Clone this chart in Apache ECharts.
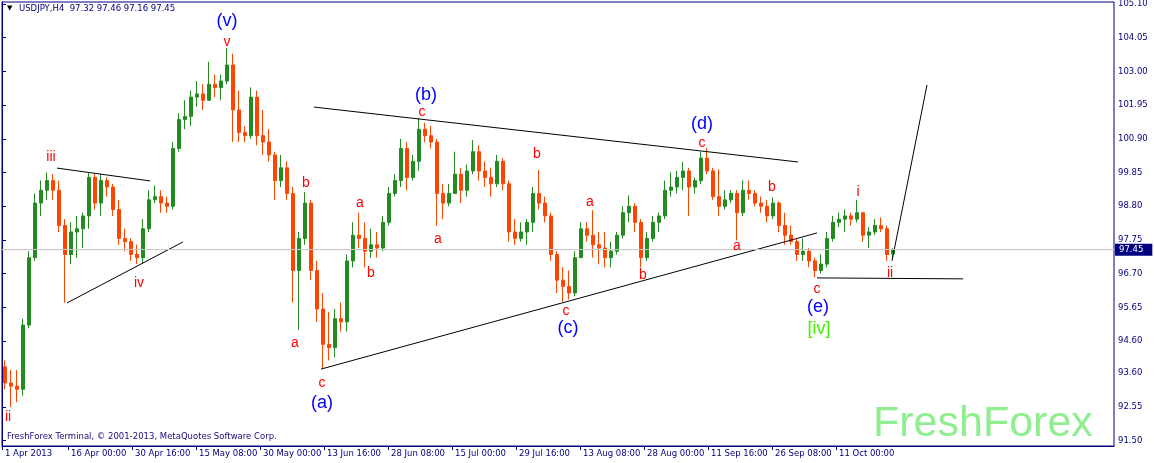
<!DOCTYPE html>
<html><head><meta charset="utf-8">
<script src="https://cdn.jsdelivr.net/npm/echarts@6/dist/echarts.min.js"></script>
<style>html,body{margin:0;padding:0;background:#fff}#c{width:1154px;height:463px}</style>
</head><body><div id="c"></div><script>
// ---- data (daily OHLC, USDJPY Apr–Oct 2013) ----
const symbolTitle = "USDJPY,H4";
const lastBarOHLC = ["97.32", "97.46", "97.16", "97.45"];
const bidPrice = 97.45;
const barsPerDay = 6; // H4 bars per trading day
const dayOpen = [93.8,93.3,93.2,93.1,95.1,97.2,98.9,99.3,99.6,99.3,98.2,97.3,98.0,98.1,98.5,99.7,98.9,99.6,99.4,98.7,97.8,97.7,97.3,97.2,98.1,99.0,99.1,98.9,98.8,100.6,101.5,101.6,102.2,102.3,102.1,102.6,102.5,102.7,103.2,101.8,101.1,101.0,102.2,101.0,100.8,100.4,99.6,100.0,99.2,96.8,97.8,98.9,96.8,95.6,94.5,94.4,95.3,95.2,97.1,97.9,97.8,97.4,97.6,97.5,98.3,99.2,99.6,100.6,99.7,100.2,101.2,101.0,100.8,99.2,98.9,99.2,99.8,99.3,99.9,100.5,99.9,99.7,99.5,100.2,99.5,98.0,97.8,98.0,98.3,99.2,98.9,98.5,97.3,96.5,96.3,96.1,97.2,98.1,97.9,97.6,97.5,97.2,97.4,97.9,98.6,98.8,98.3,97.2,97.8,98.3,98.5,99.3,99.4,99.7,99.9,99.4,99.6,100.3,99.9,99.1,98.8,99.0,99.2,98.6,99.3,99.2,98.9,98.8,98.5,98.9,98.2,97.9,97.7,97.3,97.4,97.1,96.8,97.0,97.8,98.3,98.4,98.5,98.4,98.6,97.9,98.0,98.2,98.1,97.32];
const dayHigh = [94.0,93.7,93.7,95.3,97.4,99.2,99.6,99.85,99.8,99.6,98.4,98.3,98.5,98.6,99.85,99.8,99.8,99.7,99.5,99.0,98.1,97.8,97.6,98.4,99.3,99.45,99.3,99.1,100.8,101.7,102.1,102.4,102.7,102.6,103.3,102.9,102.9,103.73,103.55,102.4,101.3,102.5,102.4,101.8,101.2,100.5,100.4,100.2,99.4,98.0,99.24,99.0,97.1,96.1,95.5,95.6,95.8,97.3,98.3,98.6,98.3,98.1,98.0,98.5,99.4,99.8,100.9,100.8,100.4,101.55,101.4,101.3,100.9,99.5,99.5,100.5,100.0,100.1,100.86,100.7,100.2,100.0,100.4,100.3,99.6,98.4,98.3,98.4,99.4,99.93,99.1,98.6,97.4,96.9,96.8,97.4,98.3,98.3,98.68,98.0,98.0,97.7,98.0,98.8,99.14,98.9,98.4,98.0,98.5,98.6,99.6,99.86,99.9,100.18,100.0,99.7,100.5,100.62,100.0,99.95,99.3,99.3,99.3,99.6,99.6,99.3,99.1,99.0,99.08,98.95,98.6,98.2,97.8,97.8,97.5,97.2,97.3,98.0,98.5,98.6,98.7,98.6,99.0,98.6,98.15,98.4,98.45,98.2,97.5];
const dayLow = [93.1,92.55,92.7,92.9,95.0,97.1,98.5,99.0,99.0,98.0,95.8,97.0,97.2,97.5,98.1,98.7,98.5,99.1,98.5,97.6,97.4,97.1,97.0,97.0,98.0,98.9,98.6,98.6,98.7,100.5,101.2,101.3,101.9,101.8,102.1,102.2,102.1,102.6,100.8,100.8,100.8,100.9,100.7,100.4,100.2,99.0,99.4,99.0,95.8,94.95,97.6,96.5,95.2,93.76,94.0,94.1,94.9,94.9,96.9,97.5,96.9,97.2,97.2,97.4,98.2,99.1,99.4,99.3,99.6,99.9,100.8,100.6,98.2,98.4,98.8,99.2,98.9,99.1,99.8,99.6,99.4,99.1,99.4,99.3,97.7,97.6,97.7,97.6,98.0,98.7,98.3,97.1,96.1,95.82,95.9,96.0,97.2,97.7,97.2,97.0,96.9,96.9,97.3,97.8,98.3,98.0,96.9,97.1,97.7,98.0,98.4,99.1,99.2,99.3,98.5,99.2,99.5,99.8,99.0,98.5,98.7,98.9,97.74,98.5,99.0,98.8,98.6,98.3,98.4,98.0,97.6,97.6,97.1,97.1,96.9,96.59,96.7,96.9,97.7,98.15,98.0,98.2,98.3,97.7,97.5,97.9,98.0,97.1,97.16];
const dayClose = [93.3,93.2,93.1,95.1,97.2,98.9,99.3,99.6,99.3,98.2,97.3,98.0,98.1,98.5,99.7,98.9,99.6,99.4,98.7,97.8,97.7,97.3,97.2,98.1,99.0,99.1,98.9,98.8,100.6,101.5,101.6,102.2,102.3,102.1,102.6,102.5,102.7,103.2,101.8,101.1,101.0,102.2,101.0,100.8,100.4,99.6,100.0,99.2,96.8,97.8,98.9,96.8,95.6,94.5,94.4,95.3,95.2,97.1,97.9,97.8,97.4,97.6,97.5,98.3,99.2,99.6,100.6,99.7,100.2,101.2,101.0,100.8,99.2,98.9,99.2,99.8,99.3,99.9,100.5,99.9,99.7,99.5,100.2,99.5,98.0,97.8,98.0,98.3,99.2,98.9,98.5,97.3,96.5,96.3,96.1,97.2,98.1,97.9,97.6,97.5,97.2,97.4,97.9,98.6,98.8,98.3,97.2,97.8,98.3,98.5,99.3,99.4,99.7,99.9,99.4,99.6,100.3,99.9,99.1,98.8,99.0,99.2,98.6,99.3,99.2,98.9,98.8,98.5,98.9,98.2,97.9,97.7,97.3,97.4,97.1,96.8,97.0,97.8,98.3,98.4,98.5,98.4,98.6,97.9,98.0,98.2,98.1,97.3,97.45];

const yTickLabels = ["91.50","92.55","93.60","94.60","95.65","96.70","97.75","98.80","99.85","100.90","101.95","103.00","104.05","105.10"];
const xTickLabels = ["1 Apr 2013","16 Apr 00:00","30 Apr 16:00","15 May 08:00","30 May 00:00","13 Jun 16:00","28 Jun 08:00","15 Jul 00:00","29 Jul 16:00","13 Aug 08:00","28 Aug 00:00","11 Sep 16:00","26 Sep 08:00","11 Oct 00:00"];
const totalSlots = 1112; // H4 bar slots visible across the chart

// wave labels: [text, H4 bar index, price]
const redLabels = [["ii",6,92.24],["iii",49,100.34],["iv",137,96.41],["v",225,103.92],["a",293,94.54],["b",304,99.53],["c",320,93.30],["a",358,98.90],["b",369,96.72],["c",420,101.74],["a",436,97.78],["b",535,100.43],["c",564,95.54],["a",588,98.93],["b",641,96.66],["c",700,100.77],["a",735,97.56],["b",770,99.40],["c",815,96.22],["i",856,99.25],["ii",888,96.72]];
const blueLabels = [["(v)",225,104.57],["(a)",320,92.67],["(b)",424,102.27],["(c)",566,95.01],["(d)",700,101.36],["(e)",816,95.66]];
const greenLabels = [["[iv]",817,94.98]];
// trend lines: [bar1, price1, bar2, price2]
const trendLines = [[55,99.99,148,99.59],[65,95.79,181,97.69],[312,101.89,796,100.18],[319,93.73,815,97.97],[815,96.57,961,96.54],[890,97.10,925,102.58]];

// ---- calendar of H4 slots (weekdays only) ----
const MON = ["Jan","Feb","Mar","Apr","May","Jun","Jul","Aug","Sep","Oct","Nov","Dec"];
const slotName = {};
(function(){
  const d = new Date(Date.UTC(2013,3,1));
  let day = 0;
  while (day * barsPerDay < totalSlots) {
    const wd = d.getUTCDay();
    if (wd !== 0 && wd !== 6) {
      for (let h = 0; h < barsPerDay; h++) {
        const k = day * barsPerDay + h;
        const hh = String(h*4).padStart(2,'0') + ':00';
        slotName[d.getUTCDate()+' '+MON[d.getUTCMonth()]+' '+hh] = k;
        if (h === 0) slotName[d.getUTCDate()+' '+MON[d.getUTCMonth()]+' '+d.getUTCFullYear()] = k;
      }
      day++;
    }
    d.setUTCDate(d.getUTCDate()+1);
  }
})();
const xTickPos = xTickLabels.map(l => slotName[l]);
const xLabelByPos = {}; xTickLabels.forEach((l,i)=>{ xLabelByPos[xTickPos[i]] = l; });
const yTickVals = yTickLabels.map(Number);

const candles = dayOpen.map((o,i)=>[i*barsPerDay + barsPerDay/2, o, dayClose[i], dayLow[i], dayHigh[i]]);

const NAVY = '#000080';
const FONT = 'DejaVu Sans';

function labelSeries(list, color, size) {
  return {
    type: 'scatter', silent: true, z: 5, symbol: 'circle', symbolSize: 1,
    itemStyle: {color: 'rgba(0,0,0,0)'},
    data: list.map(l => ({name: l[0], value: [l[1], l[2]]})),
    label: {show: true, position: 'inside', formatter: '{b}', color: color, opacity: 1,
            textBorderWidth: 0, textBorderColor: 'transparent',
            fontFamily: 'Liberation Sans', fontSize: size}
  };
}

const series = [
  {
    type: 'line', z: 1, silent: true, clip: false, symbol: 'none',
    data: [[0, bidPrice], [totalSlots, bidPrice]],
    lineStyle: {color: '#C8C8C8', width: 1},
    markLine: {
      silent: true, symbol: ['none','none'],
      data: [{yAxis: bidPrice}],
      lineStyle: {color: '#C8C8C8', width: 1, type: 'solid'},
      label: {show: true, position: 'end', distance: 1, formatter: bidPrice.toFixed(2),
              color: '#fff', backgroundColor: NAVY, padding: [2, 9, 1, 4],
              fontFamily: FONT, fontSize: 8.5}
    }
  },
  {
    type: 'candlestick', z: 2, silent: true, barWidth: 4,
    data: candles,
    itemStyle: {color: '#228B22', color0: '#FF4500', borderColor: '#228B22', borderColor0: '#FF4500', borderWidth: 1}
  }
];
trendLines.forEach(t => series.push({
  type: 'line', z: 3, silent: true, clip: false, symbol: 'none',
  data: [[t[0], t[1]], [t[2], t[3]]],
  lineStyle: {color: '#000', width: 1}
}));
series.push(labelSeries(redLabels, '#FF0000', 14));
series.push(labelSeries(blueLabels, '#0000FF', 18));
series.push(labelSeries(greenLabels, '#44EE00', 18));

const chart = echarts.init(document.getElementById('c'), null, {renderer: 'canvas'});
chart.setOption({
  animation: false,
  backgroundColor: '#fff',
  grid: {left: 2, right: 40, top: 2, bottom: 17, show: true, borderColor: NAVY, borderWidth: 1,
         backgroundColor: '#fff', containLabel: false, outerBoundsMode: 'none'},
  xAxis: {
    type: 'value', min: 0, max: totalSlots,
    splitLine: {show: false},
    axisLine: {show: true, lineStyle: {color: NAVY, width: 1}},
    axisTick: {show: true, length: 4, lineStyle: {color: NAVY}, customValues: xTickPos},
    axisLabel: {customValues: xTickPos, align: 'left', margin: 3, padding: [0,0,0,3],
                color: NAVY, fontFamily: FONT, fontSize: 8.5,
                formatter: v => xLabelByPos[v] || ''}
  },
  yAxis: {
    type: 'value', position: 'right', min: 91.335, max: 105.162, scale: true,
    splitLine: {show: false},
    axisLine: {show: true, lineStyle: {color: NAVY, width: 1}},
    axisTick: {show: true, length: 4, lineStyle: {color: NAVY}, customValues: yTickVals},
    axisLabel: {customValues: yTickVals, margin: 4, color: NAVY, fontFamily: FONT, fontSize: 8.5,
                formatter: v => { const i = yTickVals.indexOf(v); return i >= 0 ? yTickLabels[i] : v.toFixed(2); }}
  },
  graphic: [
    {type: 'text', left: 7, top: 5, silent: true,
     style: {text: '\u25BC', fill: '#000', font: '7px "DejaVu Sans"'}},
    {type: 'text', left: 19, top: 4, silent: true,
     style: {text: symbolTitle + '  ' + lastBarOHLC.join(' '), fill: NAVY, font: '8.5px "DejaVu Sans"'}},
    {type: 'text', left: 7, top: 432, silent: true,
     style: {text: 'FreshForex Terminal, \u00A9 2001-2013, MetaQuotes Software Corp.', fill: '#1A0A80', font: '8.5px "DejaVu Sans"'}},
    {type: 'text', left: 873, top: 403, silent: true, z: 0,
     style: {text: 'FreshForex', fill: '#90EE90', font: '43px "Liberation Sans"'}}
  ],
  series: series
});
</script></body></html>
